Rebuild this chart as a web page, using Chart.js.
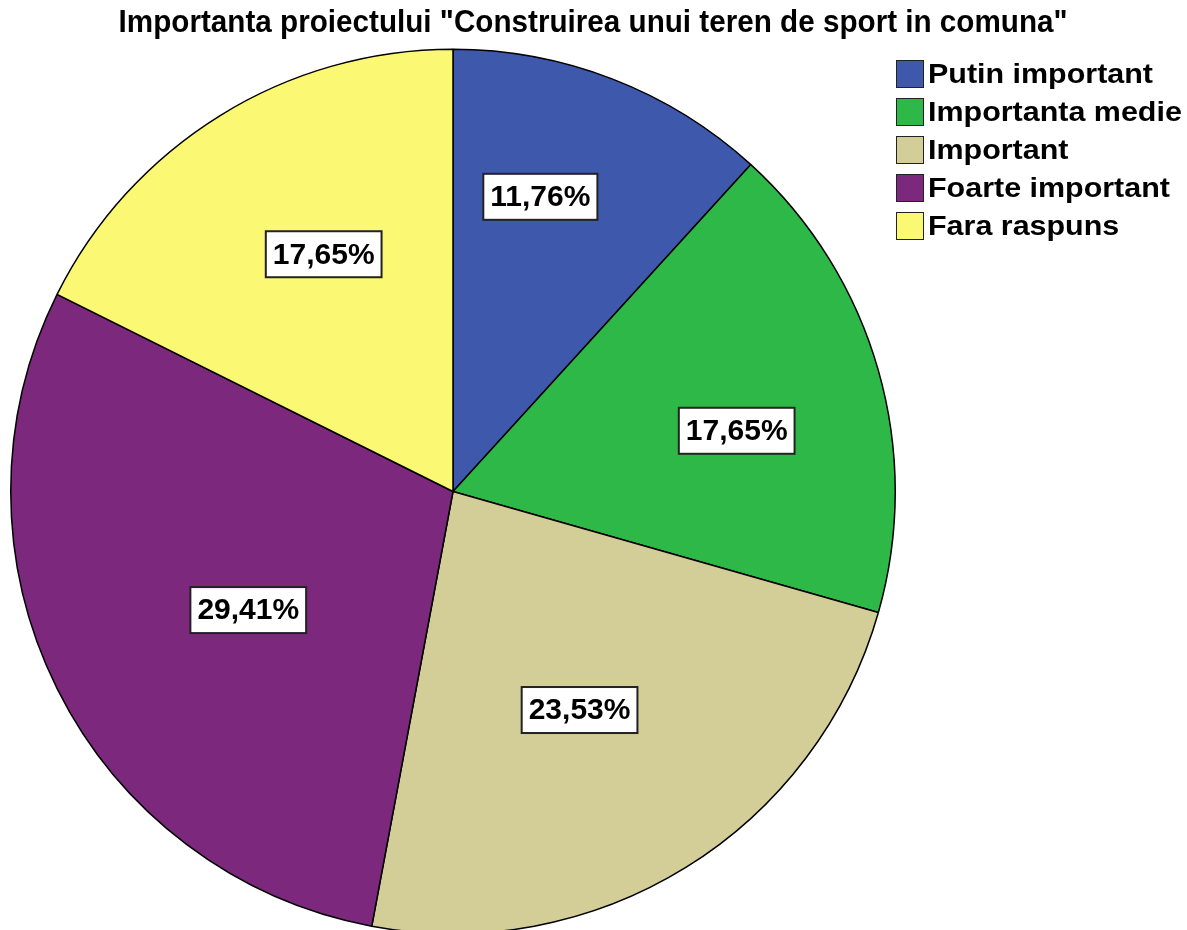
<!DOCTYPE html>
<html><head><meta charset="utf-8">
<script src="https://cdn.jsdelivr.net/npm/chart.js@4.4.1/dist/chart.umd.min.js"></script>
<style>
html,body{margin:0;padding:0;background:#fff;overflow:hidden;width:1187px;height:930px;}
#wrap{position:relative;width:1187px;height:940px;}
#title{position:absolute;left:0;top:4px;width:1187px;text-align:center;font-family:"Liberation Sans",Arial,sans-serif;font-weight:bold;font-size:31px;line-height:36px;color:#000;white-space:nowrap;}
#title span{display:inline-block;transform-origin:center;}
#legend{position:absolute;left:896px;top:55px;font-family:"Liberation Sans",Arial,sans-serif;font-weight:bold;font-size:28px;color:#000;}
.row{display:flex;align-items:center;height:38px;}
.box{width:26px;height:26px;border:1.5px solid #222;margin-right:4px;box-sizing:content-box;flex:none;}
.lbl{line-height:30px;white-space:nowrap;display:inline-block;transform-origin:left center;}
</style></head>
<body><div id="wrap">
<canvas id="c" width="1187" height="940" style="position:absolute;left:0;top:0;"></canvas>
<div id="title"><span id="tspan"></span></div>
<div id="legend"></div>
</div>
<script>
const titleText = 'Importanta proiectului "Construirea unui teren de sport in comuna"';
const categories = ['Putin important','Importanta medie','Important','Foarte important','Fara raspuns'];
const percentages = [11.76, 17.65, 23.53, 29.41, 17.65];
const percentLabels = ['11,76%','17,65%','23,53%','29,41%','17,65%'];
const colors = ['#3E58AC','#2EB848','#D3CE97','#7C287D','#FBF873'];
// label placement inside each slice (fraction of slice angle, fraction of radius)
const labelAngleFraction = [0.39, 0.56, 0.52, 0.466, 0.55];
const labelRadiusFactor = [0.695, 0.656, 0.571, 0.535, 0.611];

// title
const ts = document.getElementById('tspan');
ts.textContent = titleText;
const w = ts.getBoundingClientRect().width;
ts.style.transform = 'scaleX(' + (949 / w) + ')';

// legend
const lg = document.getElementById('legend');
categories.forEach((c,i)=>{
  const r = document.createElement('div'); r.className='row';
  const b = document.createElement('div'); b.className='box'; b.style.background=colors[i];
  const t = document.createElement('div'); t.className='lbl'; t.textContent=c;
  r.appendChild(b); r.appendChild(t); lg.appendChild(r);
});
const first = lg.querySelector('.lbl');
const lsx = 225 / first.getBoundingClientRect().width;
lg.querySelectorAll('.lbl').forEach(e=>{ e.style.transform='scaleX('+lsx+')'; });

const labelPlugin = {
  id:'pctLabels',
  afterDatasetsDraw(chart){
    const ctx = chart.ctx;
    const meta = chart.getDatasetMeta(0);
    ctx.save();
    ctx.font = 'bold 30px "Liberation Sans", Arial, sans-serif';
    ctx.textAlign='center'; ctx.textBaseline='middle';
    meta.data.forEach((arc,i)=>{
      const p = arc.getProps(['x','y','startAngle','endAngle','outerRadius'],true);
      const a = p.startAngle + (p.endAngle-p.startAngle)*labelAngleFraction[i];
      const rr = p.outerRadius*labelRadiusFactor[i];
      const x = p.x + Math.cos(a)*rr, y = p.y + Math.sin(a)*rr;
      const txt = percentLabels[i];
      const tw = ctx.measureText(txt).width;
      const bw = tw + 14, bh = 46;
      ctx.fillStyle='#fff';
      ctx.fillRect(x-bw/2, y-bh/2, bw, bh);
      ctx.lineWidth=2; ctx.strokeStyle='#222';
      ctx.strokeRect(x-bw/2, y-bh/2, bw, bh);
      ctx.fillStyle='#000';
      ctx.fillText(txt, x, y+1);
    });
    ctx.restore();
  }
};

new Chart(document.getElementById('c'), {
  type:'pie',
  data:{labels:categories, datasets:[{data:percentages, backgroundColor:colors, borderColor:'#000', borderWidth:1.5}]},
  options:{
    responsive:false, animation:false,
    layout:{padding:{left:10,right:291,top:48,bottom:5}},
    plugins:{legend:{display:false},title:{display:false},tooltip:{enabled:false}}
  },
  plugins:[labelPlugin]
});
</script>
</body></html>
